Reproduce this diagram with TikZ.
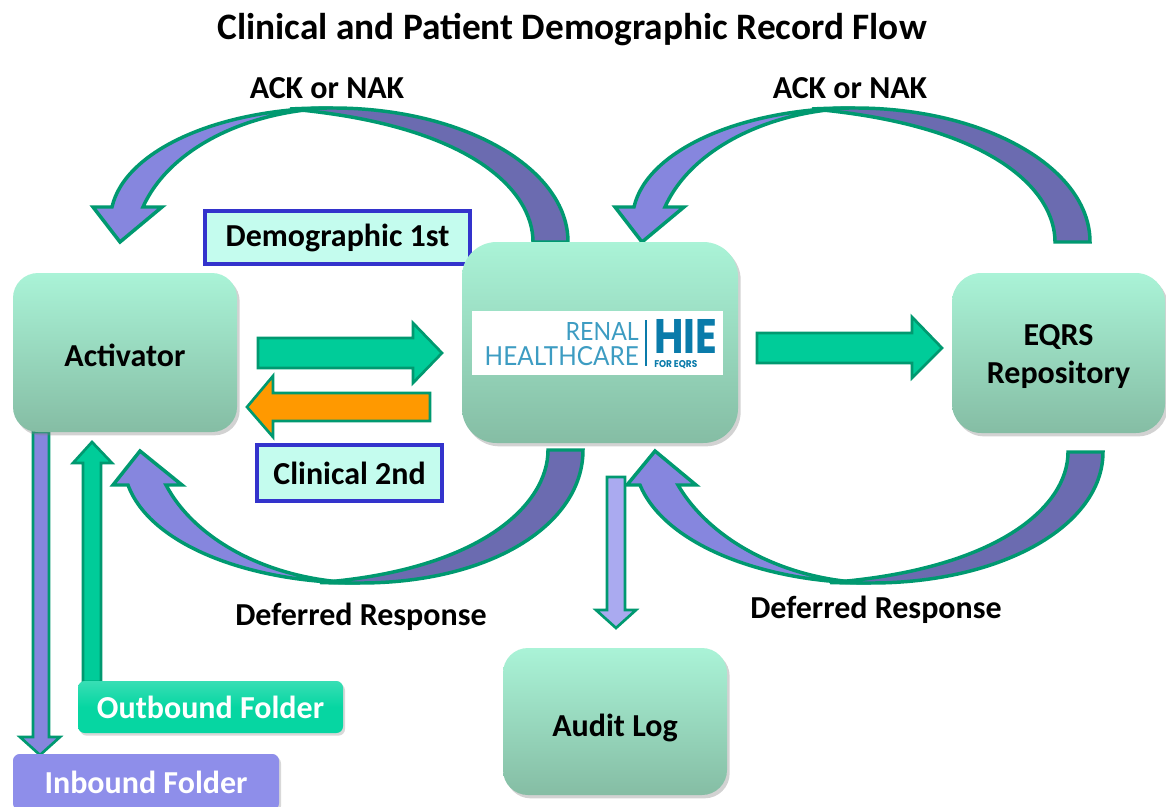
\documentclass[tikz,border=0pt]{standalone}
\usepackage{fontspec}
\usepackage{graphicx}
\setmainfont{Carlito}
\newfontfamily\logothin{Lato}
\newfontfamily\logobold{Poppins}
\usetikzlibrary{shadows}
\definecolor{boxtop}{HTML}{AAF3D7}
\definecolor{boxbot}{HTML}{85BDA4}
\definecolor{arcL}{HTML}{8686DE}
\definecolor{arcD}{HTML}{6B6BB0}
\definecolor{edgeG}{HTML}{009970}
\definecolor{arrG}{HTML}{00CC99}
\definecolor{arrO}{HTML}{FF9900}
\definecolor{tagB}{HTML}{3333CC}
\definecolor{tagF}{HTML}{C4FCEE}
\definecolor{outF}{HTML}{06D6A2}
\definecolor{inF}{HTML}{8E8EEA}
\definecolor{audF}{HTML}{AAAAF0}
\definecolor{logoL}{HTML}{3D9CC2}
\definecolor{logoD}{HTML}{0A7BAA}
\newcommand\lblfont{\fontsize{24}{28.5}\selectfont\bfseries}
\newcommand\ttlfont{\fontsize{28}{32}\selectfont\bfseries}
\tikzset{
 procbox/.style={shape=rectangle, inner sep=0pt, top color=boxtop, bottom color=boxbot, draw=none,
   drop shadow={shadow xshift=2pt, shadow yshift=-2.5pt, opacity=0.35}, font=\lblfont, align=center},
 tagbox/.style={rectangle, draw=tagB, line width=3pt, fill=tagF, inner sep=0pt, font=\lblfont},
 folder/.style={rectangle, rounded corners=5pt, inner sep=0pt, text=white, font=\lblfont,
   drop shadow={shadow xshift=1.5pt, shadow yshift=-2pt, opacity=0.3}},
 ribbonL/.style={fill=arcL, draw=edgeG, line width=2.6pt, line join=miter},
 ribbonD/.style={fill=arcD, draw=edgeG, line width=2.6pt, line join=miter},
 blockarrow/.style={draw=edgeG, line width=2pt, line join=miter},
 lbl/.style={font=\lblfont, inner sep=0pt, align=center}
}
\begin{document}
\begin{tikzpicture}[x=0.75pt,y=-0.75pt]
\useasboundingbox (0,0) rectangle (1166,806);
\clip (0,0) rectangle (1166,806);
\fill[white] (0,0) rectangle (1166,806);

% title and labels
\node[font=\ttlfont, inner sep=0pt] (title) at (572,30) {Clinical and Patient Demographic Record Flow};
\node[lbl] (ackL) at (327,88) {ACK or NAK};
\node[lbl] (ackR) at (850,88) {ACK or NAK};
\node[lbl] (defL) at (361,617) {Deferred Response};
\node[lbl] (defR) at (876,610) {Deferred Response};

% top curved arrows (ACK or NAK)
\foreach \dx in {0,522}{
\begin{scope}[shift={(\dx,0)}]
\path[ribbonL] (333,108) .. controls (220,108) and (125,150) .. (112,207) -- (93,207) -- (120,242) -- (162,207) -- (143,207)
   .. controls (170,147) and (250,110) .. (333,108) -- cycle;
\path[ribbonD] (290,109) .. controls (302,108.3) and (318,108) .. (333,108) .. controls (463,108) and (568,168) .. (568,242)
   -- (533,242) .. controls (533,190) and (470,125) .. (290,109) -- cycle;
\end{scope}}

% bottom-left curved arrow (Deferred Response to Activator)
\path[ribbonL] (360,583) .. controls (250,583) and (150,545) .. (128,485) -- (113,485) -- (140,451) -- (182,485) -- (166,485)
   .. controls (195,540) and (270,581) .. (360,583) -- cycle;
\path[ribbonD] (320,582.5) .. controls (333,583) and (347,583) .. (360,583) .. controls (490,583) and (583,525) .. (583,450)
   -- (548,450) .. controls (548,505) and (480,570) .. (320,582.5) -- cycle;

% bottom-right curved arrow (Deferred Response to HIE)
\path[ribbonL] (871,583) .. controls (765,583) and (665,545) .. (640,485) -- (627,485) -- (655,451) -- (696,485) -- (678,485)
   .. controls (710,540) and (785,581) .. (871,583) -- cycle;
\path[ribbonD] (830,582.5) .. controls (845,583) and (858,583) .. (871,583) .. controls (1003,583) and (1103,525) .. (1103,452)
   -- (1068,452) .. controls (1068,508) and (995,570) .. (830,582.5) -- cycle;

% straight block arrows
\path[blockarrow, fill=arrG] (258,338) -- (413,338) -- (413,323) -- (442,353) -- (413,383) -- (413,368) -- (258,368) -- cycle;
\path[blockarrow, fill=arrO] (430,393) -- (273,393) -- (273,376) -- (247,407) -- (273,437) -- (273,421) -- (430,421) -- cycle;
\path[blockarrow, fill=arrG] (757,333) -- (912,333) -- (912,317) -- (942,348) -- (912,378) -- (912,363) -- (757,363) -- cycle;
\path[blockarrow, fill=arcL] (33,432) -- (49,432) -- (49,737) -- (60,737) -- (40,755) -- (20,737) -- (33,737) -- cycle;
\path[blockarrow, fill=arrG] (83,682) -- (83,463) -- (73,463) -- (92,442) -- (112,463) -- (101,463) -- (101,682) -- cycle;
\path[blockarrow, fill=audF] (607,477) -- (625,477) -- (625,610) -- (636,610) -- (616,628) -- (596,610) -- (607,610) -- cycle;

% tag boxes
\node[tagbox, minimum width=198.75pt, minimum height=39.75pt] (demo) at (337.5,237.5) {Demographic 1st};
\node[tagbox, minimum width=138.75pt, minimum height=42pt] (clin) at (349.5,473) {Clinical 2nd};

% process boxes
\node[procbox, rounded corners=18.75pt, minimum width=168pt, minimum height=119.25pt] (act) at (125,352.5) {};
\node[lbl] (acttxt) at (125,355) {Activator};
\node[procbox, rounded corners=26pt, minimum width=207pt, minimum height=150.75pt] (hie) at (600,342.5) {};
\node[procbox, rounded corners=22pt, minimum width=159.75pt, minimum height=120pt] (eqrs) at (1058.5,353) {};
\node[lbl] (eqrstxt) at (1058.5,357) {EQRS\\Repository};
\node[procbox, rounded corners=18.75pt, minimum width=168pt, minimum height=110.25pt] (audit) at (615,721.5) {};
\node[lbl] (audittxt) at (615,728) {Audit Log};

% logo
\node[fill=white, minimum width=188.25pt, minimum height=48pt, inner sep=0pt] (logo) at (597.5,343) {};
\node[anchor=base east, inner sep=0pt, text=logoL] (renal) at (639,340) {\resizebox{54.75pt}{13.5pt}{\logothin RENAL}};
\node[anchor=base east, inner sep=0pt, text=logoL] (hc) at (639,365) {\resizebox{115.5pt}{14.25pt}{\logothin HEALTHCARE}};
\coordinate (barT) at (646,320);
\coordinate (barB) at (646,366);
\draw[logoD, line width=1.2pt] (barT) -- (barB);
\node[anchor=base west, inner sep=0pt, text=logoD] (hietxt) at (654,353) {\resizebox{47.25pt}{25.5pt}{\logobold\bfseries HIE}};
\node[anchor=base west, inner sep=0pt, text=logoD] (foreqrs) at (654,367) {\resizebox{32.25pt}{5.25pt}{\logobold\bfseries FOR EQRS}};

% folders
\node[folder, top color=outF!80!white, bottom color=outF, middle color=outF, minimum width=198.75pt, minimum height=39pt] (outb) at (210.5,707) {Outbound Folder};
\node[folder, fill=inF, minimum width=199.5pt, minimum height=42pt] (inb) at (146,782) {Inbound Folder};
\end{tikzpicture}
\end{document}
